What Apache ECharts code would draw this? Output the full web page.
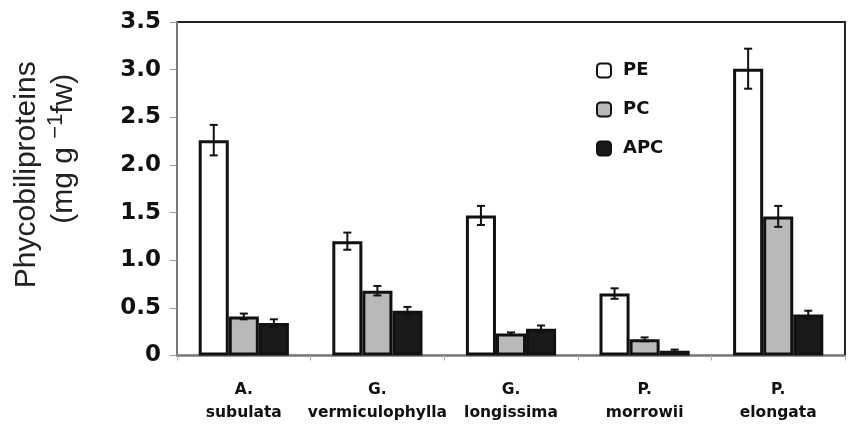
<!DOCTYPE html>
<html><head><meta charset="utf-8">
<script src="https://cdn.jsdelivr.net/npm/echarts@6/dist/echarts.min.js"></script>
<style>html,body{margin:0;padding:0;background:#fff}#c{width:849px;height:427px}</style>
</head><body><div id="c"></div>
<script>
const categories = ['A.\nsubulata', 'G.\nvermiculophylla', 'G.\nlongissima', 'P.\nmorrowii', 'P.\nelongata'];
const seriesNames = ['PE', 'PC', 'APC'];
const peValues = [2.26, 1.20, 1.47, 0.65, 3.01];
const pcValues = [0.41, 0.68, 0.23, 0.17, 1.46];
const apcValues = [0.34, 0.47, 0.28, 0.05, 0.43];
const peErrors = [0.16, 0.09, 0.10, 0.055, 0.21];
const pcErrors = [0.03, 0.05, 0.012, 0.02, 0.11];
const apcErrors = [0.04, 0.04, 0.035, 0.012, 0.04];
const yTicks = [0, 0.5, 1.0, 1.5, 2.0, 2.5, 3.0, 3.5];

const fills = ['#ffffff', '#b9b9b9', '#1a1a1a'];
const allValues = [peValues, pcValues, apcValues];
const allErrors = [peErrors, pcErrors, apcErrors];
const BAR_FRAC = 0.225;
const FONT = '"Liberation Sans", Arial, sans-serif';
const BOLD = '"DejaVu Sans", "Liberation Sans", sans-serif';

const chart = echarts.init(document.getElementById('c'));

const barSeries = seriesNames.map((name, k) => ({
  name, type: 'bar', data: allValues[k], barWidth: (BAR_FRAC * 100) + '%', barGap: '0%',
  itemStyle: { color: fills[k], borderColor: '#111', borderWidth: 3 },
  z: 2
}));

const errSeries = seriesNames.map((name, k) => ({
  type: 'custom', name: name + '_err',
  data: allValues[k].map((v, i) => [i, v - allErrors[k][i], v + allErrors[k][i]]),
  z: 5,
  renderItem: function (params, api) {
    const i = api.value(0);
    const band = api.size([1, 0])[0];
    const off = (k - 1) * band * BAR_FRAC;
    const lo = api.coord([i, api.value(1)]);
    const hi = api.coord([i, api.value(2)]);
    const x = lo[0] + off;
    const cap = 4;
    const st = { stroke: '#111', lineWidth: 2 };
    return { type: 'group', children: [
      { type: 'line', shape: { x1: x, y1: lo[1], x2: x, y2: hi[1] }, style: st },
      { type: 'line', shape: { x1: x - cap, y1: lo[1], x2: x + cap, y2: lo[1] }, style: st },
      { type: 'line', shape: { x1: x - cap, y1: hi[1], x2: x + cap, y2: hi[1] }, style: st }
    ]};
  }
}));

chart.setOption({
  animation: false,
  backgroundColor: '#fff',
  grid: { left: 177, right: 4, top: 22, bottom: 71.5, show: true, borderColor: '#222', borderWidth: 2 },
  legend: {
    data: seriesNames, orient: 'vertical', left: 596, top: 61.5, itemGap: 21, padding: 0,
    itemWidth: 14, itemHeight: 14, icon: 'roundRect',
    textStyle: { fontFamily: BOLD, fontWeight: 'bold', fontSize: 18, lineHeight: 16, color: '#111', padding: [0, 0, 0, 7] }
  },
  xAxis: {
    type: 'category', data: categories,
    axisLine: { lineStyle: { color: '#999', width: 1.5 } },
    axisTick: { show: true, length: 5, lineStyle: { color: '#aaa' } },
    axisLabel: { interval: 0, fontFamily: BOLD, fontWeight: 'bold', fontSize: 15.5, color: '#111', lineHeight: 23, margin: 23 }
  },
  yAxis: {
    type: 'value', min: 0, max: 3.5, interval: 0.5,
    splitLine: { show: false },
    axisLine: { show: true, lineStyle: { color: '#777', width: 2 } },
    axisTick: { show: true, length: 7, lineStyle: { color: '#999' } },
    axisLabel: { fontFamily: BOLD, fontWeight: 'bold', fontSize: 23, color: '#111', margin: 16,
      formatter: v => (v === 0 ? '0' : v.toFixed(1)) },
    name: '{a|Phycobiliproteins}\n{gap| }{a|(mg g }{s|−1}{a|fw)}',
    nameLocation: 'middle', nameGap: 95, nameRotate: 90,
    nameTextStyle: {
      padding: [0, 0, 0, 28],
      rich: {
        a: { fontFamily: FONT, fontSize: 30, color: '#222', lineHeight: 36 },
        gap: { fontFamily: FONT, fontSize: 30, width: 52, lineHeight: 36 },
        s: { fontFamily: FONT, fontSize: 22, color: '#222', padding: [0, 0, 15, 0] }
      }
    }
  },
  series: barSeries.concat(errSeries)
});
</script></body></html>
